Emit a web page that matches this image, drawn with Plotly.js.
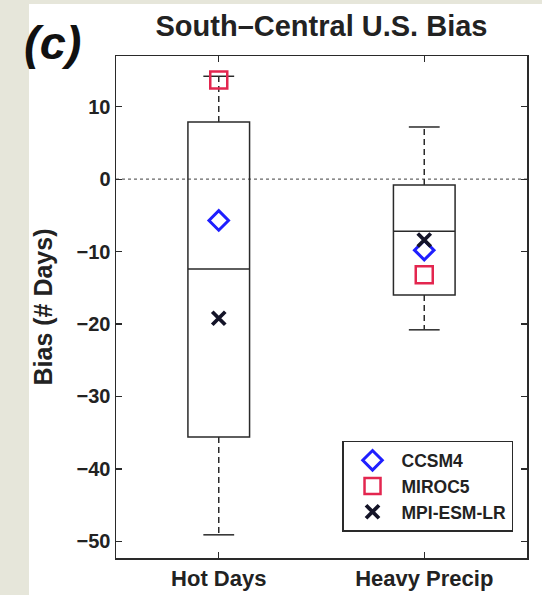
<!DOCTYPE html>
<html>
<head>
<meta charset="utf-8">
<script src="https://cdn.plot.ly/plotly-3.0.1.min.js"></script>
<style>
  html, body { margin: 0; padding: 0; background: #e6e6da; }
  #chart { width: 542px; height: 595px; }
</style>
</head>
<body>
<div id="chart"></div>
<script>
// ---- data ----
const categories = ['Hot Days', 'Heavy Precip'];
const boxQ1      = [-35.6, -16.0];
const boxMedian  = [-12.4, -7.2];
const boxQ3      = [7.9, -0.8];
const whiskerLow = [-49.1, -20.8];
const whiskerHigh= [14.2, 7.2];
const ccsm4      = [-5.7, -9.8];
const miroc5     = [13.7, -13.2];
const mpiEsmLr   = [-19.2, -8.4];
const yTicks     = [-50, -40, -30, -20, -10, 0, 10];

// ---- styling constants ----
const FONT = 'Liberation Sans, Arial, Helvetica, sans-serif';
const INK = '#2a2a2a';
const capHalf = 0.075;
const xpos = categories.map((c, i) => i + 1);

// whiskers (dashed) and caps (solid) built from arrays
const wx = [], wy = [], cx = [], cy = [];
xpos.forEach((x, i) => {
  wx.push(x, x, null, x, x, null);
  wy.push(boxQ3[i], whiskerHigh[i], null, boxQ1[i], whiskerLow[i], null);
  cx.push(x - capHalf, x + capHalf, null, x - capHalf, x + capHalf, null);
  cy.push(whiskerHigh[i], whiskerHigh[i], null, whiskerLow[i], whiskerLow[i], null);
});

const traces = [
  {
    type: 'box', x: xpos, q1: boxQ1, median: boxMedian, q3: boxQ3,
    lowerfence: boxQ1, upperfence: boxQ3, width: 0.3, whiskerwidth: 0,
    boxpoints: false, fillcolor: 'rgba(0,0,0,0)',
    line: { color: INK, width: 1.5 }, showlegend: false, hoverinfo: 'skip'
  },
  {
    type: 'scatter', mode: 'lines', x: wx, y: wy, showlegend: false, hoverinfo: 'skip',
    line: { color: INK, width: 1.5, dash: '6px,4px' }
  },
  {
    type: 'scatter', mode: 'lines', x: cx, y: cy, showlegend: false, hoverinfo: 'skip',
    line: { color: INK, width: 1.5 }
  },
  {
    type: 'scatter', mode: 'markers', name: 'CCSM4', x: xpos, y: ccsm4,
    marker: { symbol: 'diamond-open', size: 15, color: '#1f1fff', line: { width: 3, color: '#1f1fff' } }
  },
  {
    type: 'scatter', mode: 'markers', name: 'MIROC5', x: xpos, y: miroc5,
    marker: { symbol: 'square-open', size: 17, color: '#e3264f', line: { width: 2.5, color: '#e3264f' } }
  },
  {
    type: 'scatter', mode: 'markers', name: 'MPI-ESM-LR', x: xpos, y: mpiEsmLr,
    marker: { symbol: 'x-thin-open', size: 13, color: '#141428', line: { width: 3.8, color: '#141428' } }
  }
];

const layout = {
  width: 542, height: 595,
  margin: { l: 116, r: 15, t: 56, b: 37, pad: 0 },
  paper_bgcolor: '#e6e6da',
  plot_bgcolor: '#ffffff',
  font: { family: FONT, color: '#222' },
  title: {
    text: 'South–Central U.S. Bias',
    font: { family: FONT, size: 29, weight: 'bold', color: '#222' },
    x: 0.5, xref: 'paper', xanchor: 'center',
    y: 1 - 26 / 595, yref: 'container', yanchor: 'middle'
  },
  xaxis: {
    range: [0.5, 2.5], tickvals: xpos, ticktext: categories,
    ticks: 'inside', ticklen: 6, tickwidth: 1.2, tickcolor: INK,
    showline: true, linecolor: INK, linewidth: 1.5, mirror: 'ticks',
    showgrid: false, zeroline: false,
    tickfont: { family: FONT, size: 22, weight: 'bold', color: '#222' }
  },
  yaxis: {
    range: [-52.3, 17], tickvals: yTicks,
    ticks: 'inside', ticklen: 6, tickwidth: 1.2, tickcolor: INK,
    showline: true, linecolor: INK, linewidth: 1.5, mirror: 'ticks',
    showgrid: false, zeroline: false,
    tickfont: { family: FONT, size: 20, weight: 'bold', color: '#222' },
    title: { text: 'Bias (# Days)', standoff: 17,
             font: { family: FONT, size: 25, weight: 'bold', color: '#222' } }
  },
  legend: {
    x: 0.966, xanchor: 'right', y: 0.052, yanchor: 'bottom',
    bgcolor: '#ffffff', bordercolor: INK, borderwidth: 1.5,
    itemwidth: 48,
    font: { family: FONT, size: 17.5, weight: 'bold', color: '#222' }
  },
  shapes: [
    { type: 'rect', xref: 'paper', yref: 'paper', x0: (29 - 116) / 411, x1: 1.1,
      y0: -0.2, y1: (558 - 4) / 502, fillcolor: '#ffffff', line: { width: 0 }, layer: 'below' },
    { type: 'line', xref: 'paper', yref: 'y', x0: 0, x1: 1, y0: 0, y1: 0,
      line: { color: '#666', width: 1.2, dash: 'dot' }, layer: 'below' }
  ],
  annotations: [
    { text: '<b><i>(c)</i></b>', xref: 'paper', yref: 'paper',
      x: (52 - 116) / 411, y: (558 - 42) / 502, xanchor: 'center', yanchor: 'middle',
      showarrow: false, font: { family: FONT, size: 47, color: '#111' } }
  ],
  showlegend: true
};

Plotly.newPlot('chart', traces, layout, { displayModeBar: false, staticPlot: true });
</script>
</body>
</html>
